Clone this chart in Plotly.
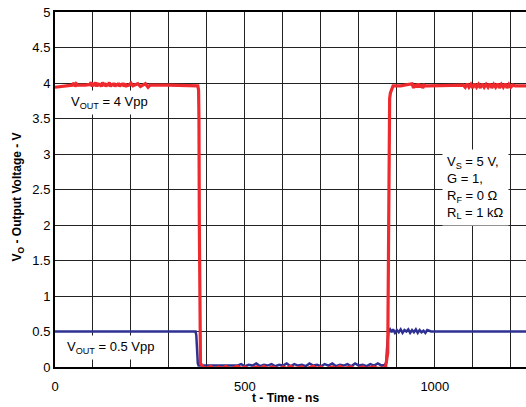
import plotly.graph_objects as go

# output voltage waveforms
# 4 Vpp step (red)
red_t = [0, 25, 45, 50, 53, 56, 60, 80, 92, 95, 98, 101, 104, 107, 110, 113, 116, 119, 122, 125,
         128, 131, 134, 137, 140, 143, 146, 149, 152, 155, 158, 161, 164, 167, 170, 173, 176, 179,
         182, 185, 188, 195, 200, 205, 212, 218, 225, 232, 238, 245, 250, 300, 350, 372, 376,
         378, 379, 380, 381, 383, 390, 400, 410, 420, 430, 440, 450, 460, 470, 480, 490, 500, 510,
         520, 530, 540, 550, 560, 570, 580, 590, 600, 610, 620, 630, 640, 650, 660, 670, 680, 690,
         700, 710, 720, 730, 740, 750, 760, 770, 780, 790, 800, 810, 820, 830, 840, 850, 860, 870,
         876, 878, 879, 880, 881, 883, 886, 890, 896, 910, 940, 944, 948, 952, 956, 960, 964, 968,
         972, 976, 982, 1000, 1050, 1075, 1080, 1085, 1090, 1095, 1100, 1105, 1110, 1115, 1120,
         1125, 1130, 1135, 1140, 1145, 1150, 1155, 1160, 1165, 1170, 1175, 1180, 1185, 1190, 1195,
         1200, 1205, 1212, 1225, 1240]
red_v = [3.94, 3.96, 3.97, 4.00, 3.95, 3.99, 3.97, 3.97, 3.98, 4.01, 3.95, 4.00, 3.96, 4.01, 3.95,
         4.00, 3.96, 3.99, 3.95, 4.01, 3.96, 4.00, 3.95, 3.99, 3.96, 4.01, 3.95, 3.99, 3.96, 4.00,
         3.95, 3.99, 3.96, 4.00, 3.95, 3.99, 3.96, 4.00, 3.95, 3.99, 3.96, 3.97, 4.00, 3.96, 3.97,
         3.99, 3.95, 3.97, 3.99, 3.94, 3.97, 3.97, 3.97, 3.97, 3.96,
         3.90, 3.50, 2.00, 0.50, 0.05, 0.00, -0.02, 0.01, -0.03, 0.00, -0.02, 0.01, -0.03, -0.01,
         0.01, -0.02, 0.00, -0.03, -0.01, 0.00, -0.02, 0.01, -0.03, 0.00, -0.01, -0.03, 0.00,
         -0.02, 0.01, -0.02, -0.01, 0.00, -0.03, -0.01, 0.01, -0.02, 0.00, -0.03, -0.01, 0.00,
         -0.02, 0.01, -0.02, -0.01, 0.00, -0.03, -0.01, 0.00, -0.02, -0.01, 0.00, -0.02, -0.01,
         -0.01, 0.20, 2.00, 3.20, 3.60, 3.78, 3.86, 3.92, 3.96, 3.96, 3.96, 3.99, 3.93, 3.98, 3.94,
         3.99, 3.94, 3.98, 3.93, 3.97, 3.96, 3.96, 3.96, 3.96, 3.97, 3.94, 3.99, 3.94, 3.98, 3.93,
         3.99, 3.94, 3.98, 3.93, 3.99, 3.94, 3.98, 3.94, 3.99, 3.93, 3.98, 3.94, 3.99, 3.93, 3.98,
         3.94, 3.99, 3.93, 3.98, 3.94, 3.97, 3.96, 3.96, 3.96]

# 0.5 Vpp step (blue)
blue_t = [0, 100, 200, 300, 370, 372, 374, 376, 378, 400, 450, 480, 490, 500, 510, 520, 530, 540,
          550, 560, 570, 580, 590, 600, 610, 620, 630, 640, 650, 660, 670, 680, 690, 700, 710, 720,
          730, 740, 750, 760, 770, 780, 790, 800, 810, 820, 830, 840, 850, 860, 868, 872, 874, 876,
          878, 882, 886, 890, 895, 900, 905, 910, 915, 920, 925, 930, 935, 940, 945, 950, 955, 960,
          965, 970, 975, 980, 990, 1000, 1100, 1240]
blue_v = [0.50, 0.50, 0.50, 0.50, 0.50, 0.45, 0.20, 0.05, 0.02, 0.02, 0.02, 0.02, 0.04, 0.01,
          0.03, 0.02, 0.05, 0.01, 0.03, 0.02, 0.04, 0.01, 0.03, 0.02, 0.05, 0.01, 0.04, 0.02, 0.03,
          0.01, 0.05, 0.02, 0.03, 0.01, 0.04, 0.02, 0.05, 0.01, 0.03, 0.02, 0.04, 0.01, 0.05, 0.02,
          0.03, 0.01, 0.04, 0.02, 0.05, 0.02, 0.03, 0.06, 0.25, 0.45, 0.50, 0.53, 0.49, 0.53, 0.48,
          0.52, 0.49, 0.53, 0.48, 0.52, 0.50, 0.53, 0.48, 0.52, 0.49, 0.53, 0.48, 0.52, 0.49, 0.51,
          0.48, 0.52, 0.50, 0.50, 0.50, 0.50]

x_ticks = [0, 500, 1000]

fnt = "Arial, Liberation Sans, sans-serif"

fig = go.Figure()
fig.add_trace(go.Scatter(x=blue_t, y=blue_v, mode="lines",
                         line=dict(color="#2E3192", width=2.5), showlegend=False))
fig.add_trace(go.Scatter(x=red_t, y=red_v, mode="lines",
                         line=dict(color="#EE2A2F", width=3.2), showlegend=False))

# text boxes
fig.add_annotation(x=32, y=3.72, xref="x", yref="y", xanchor="left", yanchor="middle",
                   text="V<sub>OUT</sub> = 4 Vpp", showarrow=False, bgcolor="white",
                   font=dict(size=13, color="black"), borderpad=3)
fig.add_annotation(x=20, y=0.27, xref="x", yref="y", xanchor="left", yanchor="middle",
                   text="V<sub>OUT</sub> = 0.5 Vpp", showarrow=False, bgcolor="white",
                   font=dict(size=13, color="black"), borderpad=3)
fig.add_annotation(x=1018, y=2.53, xref="x", yref="y", xanchor="left", yanchor="middle",
                   text="V<sub>S</sub> = 5 V,<br>G = 1,<br>R<sub>F</sub> = 0 Ω<br>R<sub>L</sub> = 1 kΩ",
                   align="left", showarrow=False, bgcolor="white",
                   font=dict(size=13, color="black"), borderpad=4)

# axis titles placed as paper annotations so the plot box stays put
fig.add_annotation(x=0.49, y=-0.087, xref="paper", yref="paper", xanchor="center", yanchor="middle",
                   text="<b>t - Time - ns</b>", showarrow=False, font=dict(size=12))
fig.add_annotation(x=-0.079, y=0.48, xref="paper", yref="paper", showarrow=False,
                   xanchor="center", yanchor="middle",
                   text="<b>V<sub>O</sub> - Output Voltage - V</b>", textangle=-90,
                   font=dict(size=12))

fig.update_layout(
    width=526, height=407,
    margin=dict(l=55, r=0, t=12, b=40),
    plot_bgcolor="white", paper_bgcolor="white",
    font=dict(family=fnt, size=13, color="black"),
    xaxis=dict(
        range=[0, 1240], tickvals=x_ticks, showgrid=True, gridcolor="#222", gridwidth=1,
        minor=dict(dtick=100, showgrid=True, gridcolor="#222", gridwidth=1),
        showline=True, linecolor="black", linewidth=2, mirror=True,
        ticks="", ticklabelstandoff=6, zeroline=False, automargin=False,
    ),
    yaxis=dict(
        range=[0, 5], dtick=0.5, showgrid=True, gridcolor="#222", gridwidth=1,
        showline=True, linecolor="black", linewidth=2,
        ticks="", zeroline=False, automargin=False,
    ),
)

# drop the default page margin so the figure sits at the window's corner
fig.write_html("out.html", config={"displayModeBar": False},
               post_script="document.body.style.margin='0';")
